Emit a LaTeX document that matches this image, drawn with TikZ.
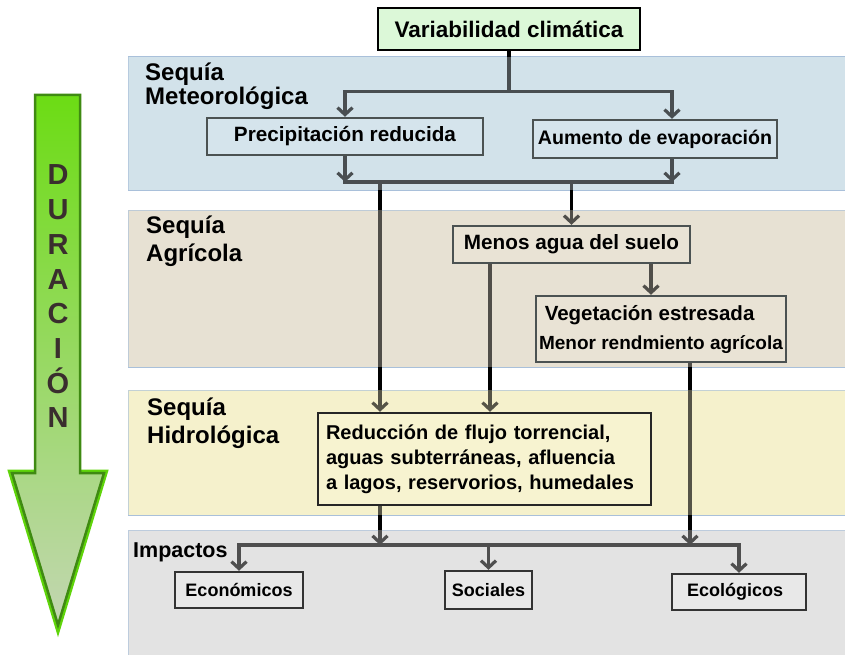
\documentclass[tikz,border=0pt]{standalone}
\usepackage{fontspec}
\setmainfont{Liberation Sans}
\usepackage{tikz}
\usetikzlibrary{positioning,arrows.meta}

\pgfdeclarelayer{bands}
\pgfdeclarelayer{links}
\pgfdeclarelayer{veil}
\pgfsetlayers{bands,links,veil,main}

\definecolor{metband}{HTML}{D2E2EA}
\definecolor{agrband}{HTML}{E7E1D3}
\definecolor{hidband}{HTML}{F5F1CC}
\definecolor{impband}{HTML}{E3E3E3}
\definecolor{bandline}{HTML}{A9C0DA}
\definecolor{varfill}{HTML}{DCF8D8}
\definecolor{metbox}{HTML}{D5E4EC}
\definecolor{agrbox}{HTML}{E9E3D5}
\definecolor{hidbox}{HTML}{F7F3D0}
\definecolor{impbox}{HTML}{E8E8E8}
\definecolor{boxgray}{HTML}{4B5252}
\definecolor{durtop}{HTML}{6CDC14}
\definecolor{durmid}{HTML}{4E9C16}
\definecolor{durbot}{HTML}{C3D6B2}
\definecolor{durdark}{HTML}{3F8A12}
\definecolor{durlime}{HTML}{5FD40A}
\definecolor{durtext}{HTML}{3A2E2E}

\begin{document}
\begin{tikzpicture}[x=1pt,y=-1pt,
  box/.style={draw=boxgray,line width=2.4pt,inner sep=0pt,font=\bfseries\fontsize{20.7}{24}\selectfont},
  lbl/.style={anchor=base west,inner sep=0pt,font=\bfseries\fontsize{24}{28}\selectfont},
  link/.style={draw=black,line width=3.2pt,line cap=rect},
  flow/.style={link,-{Straight Barb[length=7pt,width=15pt]}},
  letter/.style={anchor=base,inner sep=0pt,text=durtext,font=\bfseries\fontsize{29}{29}\selectfont}]

\useasboundingbox (0,0) rectangle (845,655);

% bands
\begin{pgfonlayer}{bands}
  \foreach \top/\bot/\col in {57/190/metband,210/367/agrband,390/515/hidband,530/655/impband}
    \filldraw[fill=\col,draw=bandline,line width=1pt] (128,\top) rectangle (845,\bot);
\end{pgfonlayer}

% duration arrow
\draw[durlime,line width=7pt,line join=miter] (80,473) -- (104,473) -- (58,625) -- (12,473) -- (35,473);
\shadedraw[top color=durtop,middle color=durmid,bottom color=durbot,draw=durdark,line width=2.5pt,line join=miter]
  (35,95) -- (80,95) -- (80,473) -- (104,473) -- (58,625) -- (12,473) -- (35,473) -- cycle;
\foreach \l [count=\i from 0] in {D,U,R,A,C,I,Ó,N}
  \node[letter] (dur\i) at (58,{185+34.7*\i}) {\l};

% stage labels
\node[lbl,font=\bfseries\fontsize{24}{25}\selectfont] (metA) at (145,81) {Sequía};
\node[lbl] (metB) at (145,105) {Meteorológica};
\node[lbl] (agrA) at (146,233) {Sequía};
\node[lbl] (agrB) at (146,261) {Agrícola};
\node[lbl] (hidA) at (147,415) {Sequía};
\node[lbl] (hidB) at (147,443) {Hidrológica};
\node[lbl,font=\bfseries\fontsize{21.5}{24}\selectfont] (impA) at (133,557) {Impactos};

% boxes
\node[box,draw=black,fill=varfill,minimum width=262pt,minimum height=42pt,font=\bfseries\fontsize{22.5}{26}\selectfont] (var) at (509,29) {Variabilidad climática};
\node[box,fill=metbox,minimum width=276pt,minimum height=37pt] (prec) at (345,136.5) {Precipitación reducida};
\node[box,fill=metbox,minimum width=244pt,minimum height=38pt,font=\bfseries\fontsize{19.6}{24}\selectfont] (evap) at (655,139) {Aumento de evaporación};
\node[box,fill=agrbox,minimum width=237pt,minimum height=37pt] (suelo) at (571.5,244.5) {Menos agua del suelo};
\node[box,fill=agrbox,minimum width=250pt,minimum height=66pt,align=left,font=\bfseries\fontsize{19}{29}\selectfont] (veg) at (661,329) {{\fontsize{20.5}{29}\selectfont\ Vegetación estresada}\\Menor rendmiento agrícola};
\node[box,draw=black!85,fill=hidbox,minimum width=333pt,minimum height=92pt,text width=317pt,align=left,font=\bfseries\fontsize{20}{25}\selectfont] (red) at (484.5,459) {Reducción de flujo torrencial,\\aguas subterráneas, afluencia\\a lagos, reservorios, humedales};
\node[box,draw=black!80,fill=impbox,minimum width=128pt,minimum height=36pt,font=\bfseries\fontsize{18}{22}\selectfont] (eco) at (239,590) {Económicos};
\node[box,draw=black!80,fill=impbox,minimum width=87pt,minimum height=38pt,font=\bfseries\fontsize{18}{22}\selectfont] (soc) at (488.5,590) {Sociales};
\node[box,draw=black!80,fill=impbox,minimum width=134pt,minimum height=36pt,text width=104pt,align=left,font=\bfseries\fontsize{18}{22}\selectfont] (ecol) at (739,592) {Ecológicos};

% connectors
\begin{pgfonlayer}{links}
  \draw[link] (var.south) -- ++(0,40) coordinate (split);
  \draw[flow] (split) -| (prec.north);
  \coordinate (evapin) at ([xshift=17pt]evap.north);
  \draw[flow] (split) -| (evapin);
  \coordinate (mL) at (345,182);
  \coordinate (mR) at (672,182);
  \draw[flow] (prec.south) -- (prec.south |- mL);
  \draw[flow] (evap.south -| mR) -- (mR);
  \draw[link] (mL) -- (mR);
  \coordinate (hydroL) at (380,182);
  \draw[flow] (hydroL) -- (hydroL |- red.north);
  \draw[flow] (suelo.north |- mL) -- (suelo.north);
  \coordinate (soilL) at (490,0);
  \coordinate (soilR) at (651,0);
  \draw[flow] (suelo.south -| soilL) -- (soilL |- red.north);
  \draw[flow] (suelo.south -| soilR) -- (soilR |- veg.north);
  \coordinate (impL) at (240,545);
  \coordinate (vegout) at (690,0);
  \draw[flow] (veg.south -| vegout) -- (vegout |- impL);
  \draw[flow] (red.south -| hydroL) -- (hydroL |- impL);
  \draw[link] (eco.north |- impL) -- (ecol.north |- impL);
  \draw[flow] (eco.north |- impL) -- (eco.north);
  \draw[flow] (soc.north |- impL) -- (soc.north);
  \draw[flow] (ecol.north |- impL) -- (ecol.north);
\end{pgfonlayer}

% tint over the connectors
\begin{pgfonlayer}{veil}
  \foreach \top/\bot/\col in {57/190/metband,210/367/agrband,390/515/hidband,530/655/impband}
    \fill[\col,opacity=0.35] (128,\top) rectangle (845,\bot);
\end{pgfonlayer}
\end{tikzpicture}
\end{document}
